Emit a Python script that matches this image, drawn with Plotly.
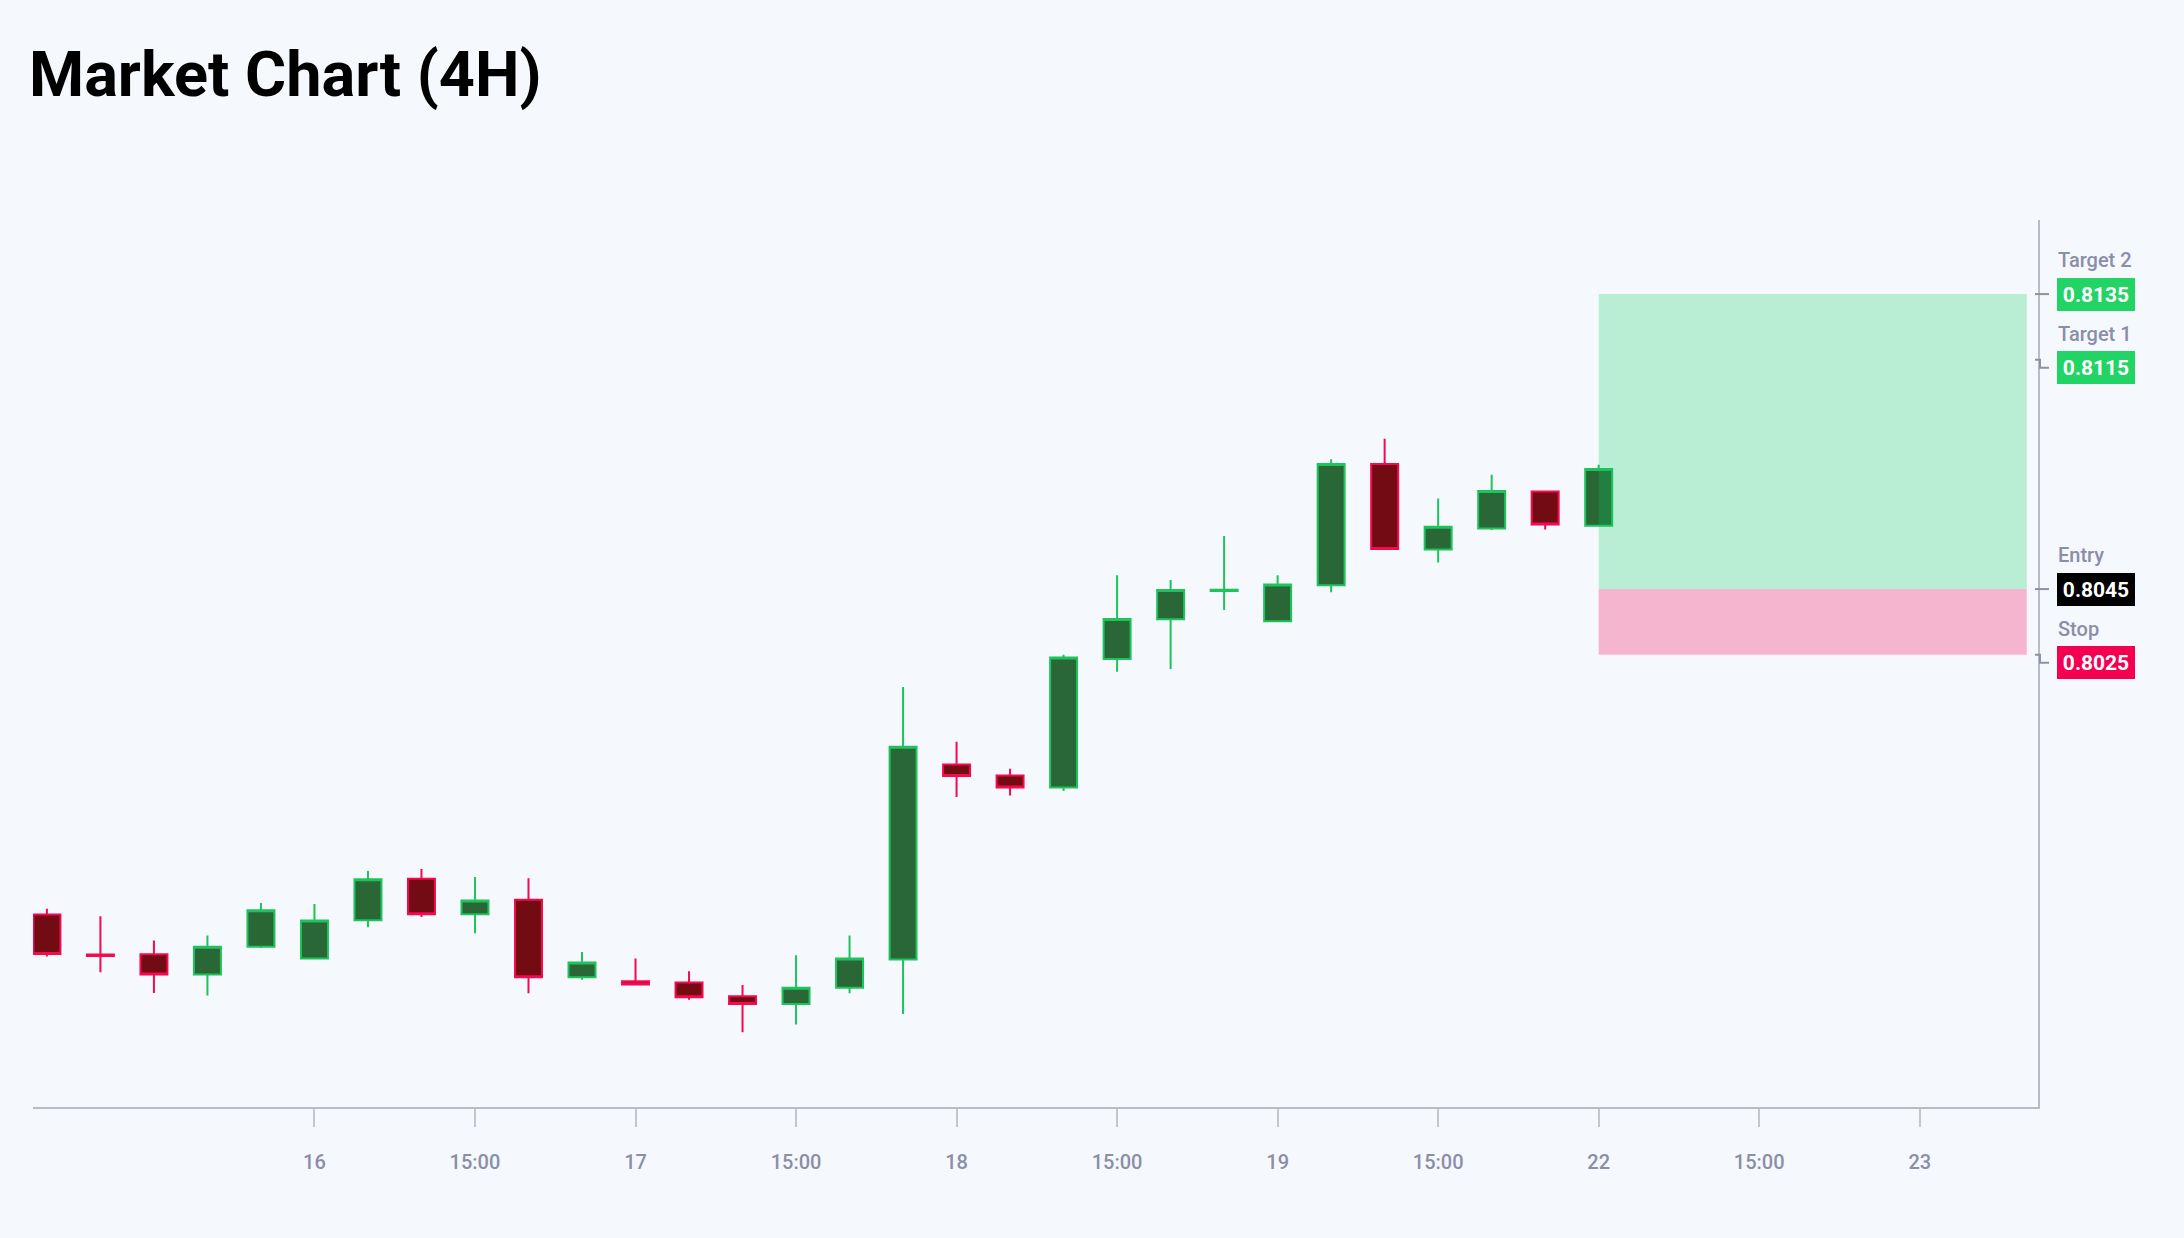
import plotly.graph_objects as go

# 4H candles
opens = [0.79457, 0.79335, 0.79336, 0.79274, 0.79359, 0.79323, 0.79440, 0.79566, 0.79458, 0.79502,
         0.79266, 0.79254, 0.79250, 0.79208, 0.79184, 0.79234, 0.79320, 0.79915, 0.79881, 0.79845,
         0.80237, 0.80358, 0.80444, 0.80352, 0.80462, 0.80832, 0.80571, 0.80635, 0.80748, 0.80643]
highs = [0.79475, 0.79452, 0.79378, 0.79393, 0.79492, 0.79489, 0.79590, 0.79596, 0.79572, 0.79568,
         0.79343, 0.79323, 0.79284, 0.79242, 0.79333, 0.79393, 0.80151, 0.79984, 0.79902, 0.80250,
         0.80492, 0.80478, 0.80612, 0.80492, 0.80846, 0.80909, 0.80726, 0.80799, 0.80750, 0.80829]
lows = [0.79329, 0.79281, 0.79218, 0.79210, 0.79355, 0.79321, 0.79418, 0.79450, 0.79400, 0.79217,
        0.79258, 0.79242, 0.79197, 0.79098, 0.79122, 0.79217, 0.79154, 0.79816, 0.79820, 0.79834,
        0.80198, 0.80206, 0.80386, 0.80350, 0.80440, 0.80570, 0.80531, 0.80630, 0.80632, 0.80641]
closes = [0.79337, 0.79331, 0.79274, 0.79359, 0.79470, 0.79439, 0.79565, 0.79458, 0.79500, 0.79266,
          0.79311, 0.79244, 0.79205, 0.79184, 0.79234, 0.79323, 0.79969, 0.79880, 0.79845, 0.80241,
          0.80359, 0.80447, 0.80448, 0.80464, 0.80832, 0.80572, 0.80640, 0.80749, 0.80647, 0.80816]
bars = list(range(len(opens)))

tick_bars = [5, 8, 11, 14, 17, 20, 23, 26, 29, 32, 35]
tick_text = ["16", "15:00", "17", "15:00", "18", "15:00", "19", "15:00", "22", "15:00", "23"]

# trade plan
entry = 0.8045
stop = 0.8025
target1 = 0.8115
target2 = 0.8135
plan_start = 29
plan_end = 37

levels = [
    ("Target 2", target2, "#22D466", 0),
    ("Target 1", target1, "#22D466", -8),
    ("Entry", entry, "#000000", 0),
    ("Stop", stop, "#F50050", -8),
]

BG = "#F5F8FD"
AXIS = "#B9BCC3"
LABEL = "#8B8EA9"

fig = go.Figure()
fig.add_trace(go.Candlestick(
    x=bars, open=opens, high=highs, low=lows, close=closes,
    increasing=dict(fillcolor="#2A6737", line=dict(color="#1FC35B", width=2)),
    decreasing=dict(fillcolor="#730B12", line=dict(color="#F5094F", width=2)),
    whiskerwidth=0,
    showlegend=False,
    hoverinfo="skip",
))

# reward / risk zones
fig.add_shape(type="rect", x0=plan_start, x1=plan_end, y0=entry, y1=target2,
              fillcolor="rgba(8,204,90,0.25)", line_width=0, layer="above")
fig.add_shape(type="rect", x0=plan_start, x1=plan_end, y0=stop, y1=entry,
              fillcolor="rgba(250,0,85,0.27)", line_width=0, layer="above")

for name, value, color, shift in levels:
    if shift == 0:
        path = "M -3,0 L 11,0"
    else:
        path = f"M -3,0 L 2,0 L 2,{shift} L 11,{shift}"
    fig.add_shape(type="path", path=path, xref="paper", yref="y",
                  xsizemode="pixel", ysizemode="pixel", xanchor=1, yanchor=value,
                  line=dict(color="#8D91A8", width=2))
    fig.add_annotation(x=1, y=value, xref="paper", yref="y", xanchor="left", yanchor="middle",
                       xshift=19, yshift=shift, text=f"<b>{value:.4f}</b>", showarrow=False,
                       width=74, height=29, borderpad=2, borderwidth=0, bgcolor=color,
                       align="center",
                       font=dict(family="Roboto", size=21, color="#FFFFFF"))
    fig.add_annotation(x=1, y=value, xref="paper", yref="y", xanchor="left", yanchor="middle",
                       xshift=19, yshift=shift + 34, text=name, showarrow=False,
                       borderpad=0, font=dict(family="Roboto", size=20, color=LABEL, weight=500))

fig.update_layout(
    width=2184, height=1238,
    paper_bgcolor=BG, plot_bgcolor=BG,
    margin=dict(l=33, r=146, t=220, b=131),
    title=dict(text="<b>Market Chart (4H)</b>", x=29 / 2184, xanchor="left",
               y=1 - 74 / 1238, yanchor="middle",
               font=dict(family="Roboto", size=63, color="#000000")),
    font=dict(family="Roboto"),
    boxgap=0.28,
)
fig.update_xaxes(range=[-0.26, 37.21], tickvals=tick_bars, ticktext=tick_text,
                 showgrid=False, zeroline=False, showline=True, linecolor=AXIS, linewidth=2,
                 ticks="outside", ticklen=18, tickwidth=1.5, tickcolor="#C3C6CC",
                 ticklabelstandoff=18,
                 tickfont=dict(family="Roboto", size=20, color=LABEL, weight=500),
                 rangeslider_visible=False, fixedrange=True)
fig.update_yaxes(range=[0.7887, 0.81576], side="right", showgrid=False, zeroline=False,
                 showline=True, linecolor=AXIS, linewidth=2, showticklabels=False, ticks="",
                 fixedrange=True)

fig.write_html("out.html", config={"displayModeBar": False},
               post_script=f"document.body.style.margin='0';"
                           f"document.body.style.background='{BG}';")
